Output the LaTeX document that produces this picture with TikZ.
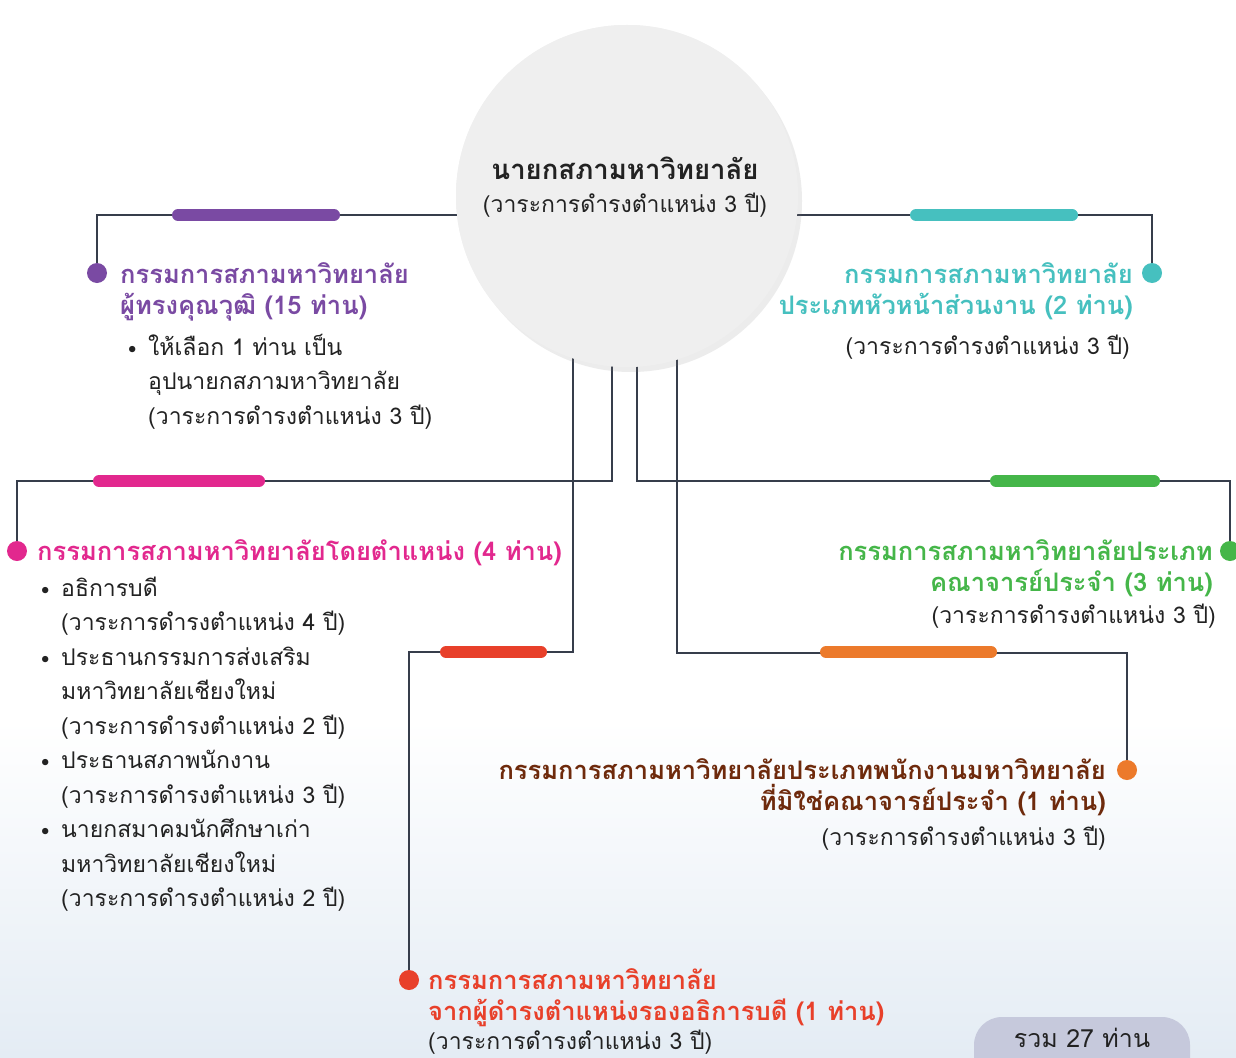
\documentclass[tikz,border=0pt]{standalone}
\usepackage{fontspec}
\newfontfamily\thai[Script=Thai]{Loma}
\usetikzlibrary{shadows}
\definecolor{lineC}{HTML}{363D4B}
\definecolor{cPurple}{HTML}{7A4AA3}
\definecolor{cTeal}{HTML}{46C0BF}
\definecolor{cPink}{HTML}{E2288E}
\definecolor{cGreen}{HTML}{45B649}
\definecolor{cRed}{HTML}{E8402A}
\definecolor{cOrange}{HTML}{EC7A2B}
\definecolor{cBrown}{HTML}{6E2A0C}
\definecolor{cTotal}{HTML}{C6C9DC}
\definecolor{cCircle}{HTML}{EFEFEF}
\definecolor{cText}{HTML}{222222}
\definecolor{cSky}{HTML}{E4ECF4}
\pgfdeclarelayer{back}
\pgfdeclarelayer{lines}
\pgfsetlayers{back,lines,main}
\newcommand{\fl}{\rule{0pt}{30pt}}
\newcommand{\bul}{\makebox[20pt][l]{\scalebox{0.8}{•}}}
\newcommand{\ind}{\hspace*{20pt}}
\begin{document}
\begin{tikzpicture}[x=1pt,y=-1pt,
  conn/.style={draw=lineC,line width=2.4pt},
  bar/.style={line width=12pt,line cap=round},
  dotnode/.style={circle,fill=#1,minimum size=20pt,inner sep=0pt},
  headL/.style={inner sep=0pt,align=left,anchor=north west,text=#1,font=\thai\bfseries\fontsize{25.5}{31}\selectfont},
  headR/.style={inner sep=0pt,align=right,anchor=north east,text=#1,font=\thai\bfseries\fontsize{25.5}{31}\selectfont},
  bodyL/.style={inner sep=0pt,align=left,anchor=north west,text=cText,font=\thai\fontsize{23}{34.5}\selectfont},
  bodyR/.style={inner sep=0pt,align=right,anchor=north east,text=cText,font=\thai\fontsize{23}{34.5}\selectfont}]
\useasboundingbox (0,0) rectangle (1236,1057);
\begin{pgfonlayer}{back}
\fill[white] (0,0) rectangle (1236,1057);
\shade[top color=white,bottom color=cSky] (0,720) rectangle (1236,1057);
\end{pgfonlayer}

% central circle
\node[circle,fill=cCircle,minimum size=342pt,inner sep=0pt,
  drop shadow={opacity=0.15,shadow xshift=4pt,shadow yshift=-5pt}] (circ) at (627,196) {};

% dots
\node[dotnode=cPurple] (pdot) at (97,273) {};
\node[dotnode=cTeal] (tdot) at (1152,273) {};
\node[dotnode=cPink] (kdot) at (17,551) {};
\node[dotnode=cGreen] (gdot) at (1230,551) {};
\node[dotnode=cRed] (rdot) at (409,980) {};
\node[dotnode=cOrange] (odot) at (1127,770) {};

% start points inside circle
\coordinate (sR) at (573,300);
\coordinate (sK) at (612,300);
\coordinate (sG) at (637,300);
\coordinate (sO) at (677,300);

\begin{pgfonlayer}{lines}
\draw[conn] (circ.center |- 0,215) -| (pdot);
\draw[conn] (circ.center |- 0,215) -| (tdot);
\draw[conn] (sK) |- ([yshift=70pt]kdot.center) -- (kdot);
\draw[conn] (sG) |- ([yshift=70pt]gdot.center) -- (gdot);
\draw[conn] (sR) |- ([yshift=328pt]rdot.center) -- (rdot);
\draw[conn] (sO) |- ([yshift=117pt]odot.center) -- (odot);
\end{pgfonlayer}
\node[circle,fill=cCircle,minimum size=342pt,inner sep=0pt] (circtop) at (circ.center) {};
\node[font=\thai\bfseries\fontsize{27.5}{33}\selectfont,text=cText] (title) at (625,168) {นายกสภามหาวิทยาลัย};
\node[font=\thai\fontsize{23}{30}\selectfont,text=cText] (subtitle) at (625,205) {(วาระการดำรงตำแหน่ง 3 ปี)};

% colored bars
\draw[bar,cPurple] (178,215) -- (334,215);
\draw[bar,cTeal] (916,215) -- (1072,215);
\draw[bar,cPink] (99,481) -- (259,481);
\draw[bar,cGreen] (996,481) -- (1154,481);
\draw[bar,cRed] (446,652) -- (541,652);
\draw[bar,cOrange] (826,652) -- (991,652);

% texts
\node[headL=cPurple] (ptxt) at (120,253) {\fl กรรมการสภามหาวิทยาลัย\\ผู้ทรงคุณวุฒิ (15 ท่าน)};
\node[bodyL] (pbody) at (128,325) {\fl\bul ให้เลือก 1 ท่าน เป็น\\\ind อุปนายกสภามหาวิทยาลัย\\\ind (วาระการดำรงตำแหน่ง 3 ปี)};

\node[headR=cTeal] (ttxt) at (1133,253) {\fl กรรมการสภามหาวิทยาลัย\\ประเภทหัวหน้าส่วนงาน (2 ท่าน)};
\node[bodyR] (tbody) at (1130,324) {\fl (วาระการดำรงตำแหน่ง 3 ปี)};

\node[headL=cPink] (ktxt) at (37,530) {\fl กรรมการสภามหาวิทยาลัยโดยตำแหน่ง (4 ท่าน)};
\node[bodyL] (kbody) at (41,566) {\fl\bul อธิการบดี\\\ind (วาระการดำรงตำแหน่ง 4 ปี)\\\bul ประธานกรรมการส่งเสริม\\\ind มหาวิทยาลัยเชียงใหม่\\\ind (วาระการดำรงตำแหน่ง 2 ปี)\\\bul ประธานสภาพนักงาน\\\ind (วาระการดำรงตำแหน่ง 3 ปี)\\\bul นายกสมาคมนักศึกษาเก่า\\\ind มหาวิทยาลัยเชียงใหม่\\\ind (วาระการดำรงตำแหน่ง 2 ปี)};

\node[headR=cGreen] (gtxt) at (1213,530) {\fl กรรมการสภามหาวิทยาลัยประเภท\\คณาจารย์ประจำ (3 ท่าน)};
\node[bodyR] (gbody) at (1216,593) {\fl (วาระการดำรงตำแหน่ง 3 ปี)};

\node[headR=cBrown] (otxt) at (1106,749) {\fl กรรมการสภามหาวิทยาลัยประเภทพนักงานมหาวิทยาลัย\\ที่มิใช่คณาจารย์ประจำ (1 ท่าน)};
\node[bodyR] (obody) at (1106,815) {\fl (วาระการดำรงตำแหน่ง 3 ปี)};

\node[headL=cRed] (rtxt) at (428,959) {\fl กรรมการสภามหาวิทยาลัย\\จากผู้ดำรงตำแหน่งรองอธิการบดี (1 ท่าน)};
\node[bodyL] (rbody) at (428,1019) {\fl (วาระการดำรงตำแหน่ง 3 ปี)};

% total
\fill[cTotal,rounded corners=28pt] (974,1017) rectangle (1190,1090);
\node[inner sep=0pt,font=\thai\fontsize{25}{30}\selectfont,text=cText] (total) at (1082,1038) {รวม 27 ท่าน};
\end{tikzpicture}
\end{document}
